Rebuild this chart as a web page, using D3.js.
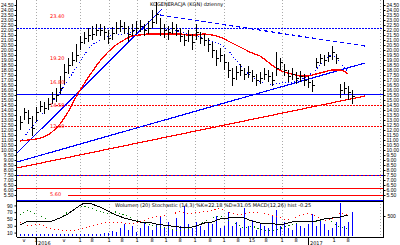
<!DOCTYPE html>
<html>
<head>
<meta charset="utf-8">
<script src="https://cdn.jsdelivr.net/npm/d3@7"></script>
<style>
body { margin: 0; background: #fff; }
svg { display: block; font-family: "DejaVu Sans", sans-serif; }
</style>
</head>
<body>
<svg id="chart" width="400" height="245"></svg>
<script>
// daily bars (price)
var closes = [12.8,13.8,13.2,12.2,13.8,14.4,14.2,14.6,15.2,15.5,
  16.2,17.8,18.5,19.0,19.5,20.8,21.2,21.5,21.6,22.0,
  22.0,21.8,21.2,21.7,22.2,22.4,22.2,21.6,22.0,22.2,
  22.4,22.0,22.2,22.8,23.6,22.2,22.0,21.8,22.2,22.0,
  21.4,21.0,21.5,20.8,21.8,21.2,21.0,20.6,20.0,19.2,
  19.5,18.8,18.0,17.2,17.8,18.0,17.6,17.8,17.4,17.0,
  17.2,17.6,17.4,17.0,18.2,18.8,18.0,17.4,17.6,17.2,
  17.4,17.0,16.8,16.5,18.8,19.2,19.0,19.4,19.8,19.2,
  16.0,16.2,15.8,15.4];
var highs = [13.4,14.2,14.0,13.4,14.3,14.9,14.8,15.2,15.8,16.2,
  17.4,18.6,19.2,19.8,20.6,21.4,21.8,22.2,22.4,22.6,
  22.6,22.4,22.0,22.3,22.8,23.0,22.8,22.4,22.6,22.9,
  23.0,22.6,22.9,24.0,24.8,23.2,22.6,22.4,22.8,22.6,
  22.2,21.6,22.0,21.6,22.6,21.8,21.6,21.2,20.8,20.0,
  20.2,19.6,18.8,18.2,18.4,18.6,18.2,18.4,18.0,17.6,
  17.8,18.2,18.0,17.8,19.8,19.2,18.6,18.0,18.2,17.8,
  17.9,17.6,17.4,17.0,19.2,19.6,19.5,19.8,20.4,19.6,
  16.6,16.8,16.4,16.0];
var lows = [12.0,13.0,12.6,11.4,12.8,13.8,13.6,14.0,14.6,14.8,
  15.6,16.6,17.6,18.4,18.8,20.0,20.6,20.8,21.0,21.4,
  21.4,21.0,20.6,21.0,21.6,21.8,21.6,20.8,21.4,21.6,
  21.8,21.4,21.6,22.2,22.6,21.4,21.2,21.0,21.6,21.4,
  20.8,20.4,20.8,20.0,21.0,20.6,20.4,19.8,19.2,18.4,
  18.8,18.0,17.2,16.4,17.0,17.4,17.0,17.2,16.8,16.4,
  16.6,17.0,16.8,16.4,17.4,18.0,17.4,16.8,17.0,16.6,
  16.8,16.4,16.2,15.8,18.2,18.6,18.4,18.8,19.0,18.6,
  15.2,15.6,15.0,14.6];
var volumes = [60,50,70,60,50,60,70,50,60,60,
  50,70,60,60,50,60,70,60,50,60,
  70,90,90,150,120,240,360,180,300,120,
  240,420,300,180,360,600,240,420,180,540,
  300,900,360,240,420,300,180,420,360,600,
  240,300,720,300,420,240,840,300,480,180,
  360,300,240,600,780,300,420,240,180,360,
  300,240,360,660,300,480,360,180,240,420,
  990,300,420,720];

// series sampled every second bar
var movingAvg = [10.9,11.0,11.1,11.3,11.8,12.6,13.8,15.3,16.6,17.8,
  18.9,19.8,20.5,21.0,21.4,21.5,21.6,21.6,21.6,21.6,
  21.6,21.5,21.5,21.6,21.5,21.3,20.9,20.5,20.1,19.7,
  19.4,18.8,18.2,17.8,17.6,17.4,17.4,17.6,17.8,18.0,
  18.0,17.6];
var band = [10.8,11.8,12.8,13.8,14.8,15.8,17.0,18.2,19.5,20.5,
  21.0,21.4,21.6,21.6,21.8,22.0,22.1,22.2,22.1,22.0,
  21.8,21.6,21.4,21.2,20.9,20.6,20.0,19.0,18.0,17.3,
  16.8,16.5,16.6,16.8,16.8,17.0,17.4,18.0,19.0,19.6,
  18.8,17.8];
var oscBlack = [32,44,44,44,44,53,65,82,97,94,
  85,74,62,53,47,41,41,35,32,29,
  26,24,29,38,41,50,53,56,53,44,
  38,38,35,35,41,44,41,44,50,53,
  56,62];
var oscGreen = [62,76,65,53,44,53,71,82,88,82,
  71,65,71,62,53,41,35,29,24,18,
  15,21,29,41,53,59,47,35,24,29,
  21,15,18,26,32,41,44,41,47,41,
  26,21];
var oscRed = [41,29,35,29,21,18,15,18,24,29,
  35,41,41,38,35,41,50,56,59,65,
  71,65,68,71,76,82,71,62,65,71,
  68,65,59,50,50,62,65,59,44,50,
  68,62];

// levels and trend lines (bar index, price)
var blueDottedLevels = [22.2];
var blueSolidLevels = [15.6, 5.0];
var redDottedLevels = [14.5, 12.4];
var mixedLevels = [7.5];
var redSolidLevels = [6.2, 5.5];
var blueTrends = [[[-0.75, 8.8], [86.25, 18.7]], [[-0.75, 9.7], [35.5, 24.1]]];
var redTrends = [[[-0.75, 8.2], [86.25, 15.4]]];
var blueDashTrends = [[[35, 23.5], [86.25, 20.4]]];

// grid, ticks, labels
var gridIdx = [4, 15, 22.25, 29.25, 36.5, 43.75, 51, 65.5, 90];
var priceTicks = [5.5,6,6.5,7,7.5,8,8.5,9,9.5,10,10.5,11,11.5,12,12.5,13,13.5,14,14.5,
  15,15.5,16,16.5,17,17.5,18,18.5,19,19.5,20,20.5,21,21.5,22,22.5,23,23.5,24,24.5];
var oscTicks = [10, 30, 50, 70, 90];
var volTicks = [600];
var redLabels = [23.4, 19.2, 16.8, 14.5, 12.4, 5.6];
var dayIdx = [1, 4, 11, 15, 18, 22.25, 25.5, 29.25, 33, 36.5, 40, 43.75, 47.5, 51, 54.5, 58, 61.5, 65.5, 69, 78.5, 82];
var dayLabels = ["v","1","v","1","8","1","8","1","8","1","8","1","8","1","8","15","8","1","8","1","8"];
var yearIdx = [4, 72];
var yearLabels = ["2016", "2017"];

var svg = d3.select("#chart");
var left = 16.5, right = 383.5, axisBottom = 237;

var x = d3.scaleLinear().domain([0, closes.length - 1]).range([20, 352]);
var y = d3.scaleLinear().domain([5, 25]).range([200, 0]);
var yOsc = d3.scaleLinear().domain([0, 100]).range([236, 202]);
var yVol = d3.scaleLinear().domain([0, 1020]).range([236, 202]);

var g = svg.append("g").attr("shape-rendering", "crispEdges");

// vertical grid
g.selectAll(".grid").data(gridIdx).join("line")
  .attr("x1", d => Math.round(x(d)) + 0.5).attr("x2", d => Math.round(x(d)) + 0.5)
  .attr("y1", 0).attr("y2", axisBottom)
  .attr("stroke", "#aaa").attr("stroke-dasharray", "1,2");

function hline(vals, color, dash, width, x0) {
  g.selectAll(null).data(vals).join("line")
    .attr("x1", x0 || left).attr("x2", right)
    .attr("y1", d => Math.round(y(d)) + 0.5).attr("y2", d => Math.round(y(d)) + 0.5)
    .attr("stroke", color).attr("stroke-width", width || 1)
    .attr("stroke-dasharray", dash);
}
hline(blueDottedLevels, "#0000ff", "2,1");
hline(blueSolidLevels, "#0000ff", null, 1.5);
hline(redDottedLevels, "#ff0000", "2,1", 1, x(9));
hline(mixedLevels, "#ff0000", null, 1.5);
hline(mixedLevels, "#0000ff", "2,2", 1.5);
hline(redSolidLevels.slice(0, 1), "#ff0000", null, 1.5);
hline(redSolidLevels.slice(1), "#ff0000", null, 1.5, x(12));

function trend(lines, color, dash) {
  g.selectAll(null).data(lines).join("line")
    .attr("x1", d => x(d[0][0])).attr("y1", d => y(d[0][1]))
    .attr("x2", d => x(d[1][0])).attr("y2", d => y(d[1][1]))
    .attr("stroke", color).attr("stroke-width", 1.2)
    .attr("stroke-dasharray", dash);
}
trend(blueTrends, "#0000ff");
trend(redTrends, "#ff0000");
trend(blueDashTrends, "#0000ff", "4,3");

// red level labels
svg.selectAll(".rl").data(redLabels).join("text")
  .attr("x", 50).attr("y", d => y(d) + 2)
  .attr("font-size", 5).attr("fill", "#ff0000")
  .text(d => d.toFixed(2));

// band and moving average
g.append("path").datum(band)
  .attr("d", d3.line().x((d, i) => x(i * 2)).y(d => y(d)))
  .attr("fill", "none").attr("stroke", "#0000ff").attr("stroke-dasharray", "1,2");
g.append("path").datum(movingAvg)
  .attr("d", d3.line().curve(d3.curveMonotoneX).x((d, i) => x(i * 2)).y(d => y(d)))
  .attr("fill", "none").attr("stroke", "#ff0000").attr("stroke-width", 1.3);

// price bars
var bars = g.selectAll(".bar").data(closes).join("g");
bars.append("line")
  .attr("x1", (d, i) => Math.round(x(i)) + 0.5).attr("x2", (d, i) => Math.round(x(i)) + 0.5)
  .attr("y1", (d, i) => y(highs[i])).attr("y2", (d, i) => y(lows[i]))
  .attr("stroke", "#000").attr("stroke-width", 1.5);
bars.append("line")
  .attr("x1", (d, i) => Math.round(x(i))).attr("x2", (d, i) => Math.round(x(i)) + 2.5)
  .attr("y1", d => Math.round(y(d)) + 0.5).attr("y2", d => Math.round(y(d)) + 0.5)
  .attr("stroke", "#000");

// lower panel
g.selectAll(".vol").data(volumes).join("line")
  .attr("x1", (d, i) => Math.round(x(i)) + 0.5).attr("x2", (d, i) => Math.round(x(i)) + 0.5)
  .attr("y1", yVol(0)).attr("y2", d => yVol(d))
  .attr("stroke", "#0000ff").attr("stroke-width", 1.5);
g.append("path").datum(oscGreen)
  .attr("d", d3.line().x((d, i) => x(i * 2)).y(d => yOsc(d)))
  .attr("fill", "none").attr("stroke", "#008000").attr("stroke-dasharray", "1,3");
g.append("path").datum(oscRed)
  .attr("d", d3.line().x((d, i) => x(i * 2)).y(d => yOsc(d)))
  .attr("fill", "none").attr("stroke", "#ff0000").attr("stroke-dasharray", "1,3");
g.append("path").datum(oscBlack)
  .attr("d", d3.line().x((d, i) => x(i * 2)).y(d => yOsc(d)))
  .attr("fill", "none").attr("stroke", "#000");

// frame
g.append("line").attr("x1", left).attr("x2", right).attr("y1", 201.5).attr("y2", 201.5).attr("stroke", "#000");
g.append("line").attr("x1", left).attr("x2", right).attr("y1", axisBottom + 0.5).attr("y2", axisBottom + 0.5).attr("stroke", "#000");
g.append("line").attr("x1", left).attr("x2", left).attr("y1", 0).attr("y2", axisBottom).attr("stroke", "#000");
g.append("line").attr("x1", right).attr("x2", right).attr("y1", 0).attr("y2", axisBottom).attr("stroke", "#000");

// axes
function styleAxis(sel) {
  sel.select(".domain").remove();
  sel.selectAll("text").attr("font-size", 5).attr("fill", "#000");
  sel.selectAll("line").attr("stroke", "#000");
}
svg.append("g").attr("transform", "translate(" + left + ",0)")
  .call(d3.axisLeft(y).tickValues(priceTicks).tickSize(2).tickPadding(1).tickFormat(d3.format(".2f")))
  .call(styleAxis);
svg.append("g").attr("transform", "translate(" + right + ",0)")
  .call(d3.axisRight(y).tickValues(priceTicks).tickSize(2).tickPadding(1).tickFormat(d3.format(".2f")))
  .call(styleAxis);
svg.append("g").attr("transform", "translate(" + left + ",0)")
  .call(d3.axisLeft(yOsc).tickValues(oscTicks).tickSize(2).tickPadding(2))
  .call(styleAxis);
svg.append("g").attr("transform", "translate(" + right + ",0)")
  .call(d3.axisRight(yVol).tickValues(volTicks).tickSize(2).tickPadding(2).tickFormat(d => "500"))
  .call(styleAxis);

// x labels
svg.selectAll(".dl").data(dayIdx).join("text")
  .attr("x", d => x(d)).attr("y", 241.5).attr("text-anchor", "middle")
  .attr("font-size", 5).text((d, i) => dayLabels[i]);
svg.selectAll(".yt").data(yearIdx).join("line")
  .attr("x1", d => Math.round(x(d)) + 0.5).attr("x2", d => Math.round(x(d)) + 0.5)
  .attr("y1", axisBottom).attr("y2", 245).attr("stroke", "#000");
svg.selectAll(".yl").data(yearIdx).join("text")
  .attr("x", d => x(d) + 2).attr("y", 245).attr("font-size", 5)
  .text((d, i) => yearLabels[i]);

// titles
svg.append("text").attr("x", 150).attr("y", 6).attr("font-size", 5)
  .text("KOGENERACJA (KGN) dzienny");
svg.append("text").attr("x", 115).attr("y", 207).attr("font-size", 5)
  .text("Wolumen (20) Stochastic (14,3) %K=22.18 %D=31.05 MACD(12,26) hist -0.25");
</script>
</body>
</html>
